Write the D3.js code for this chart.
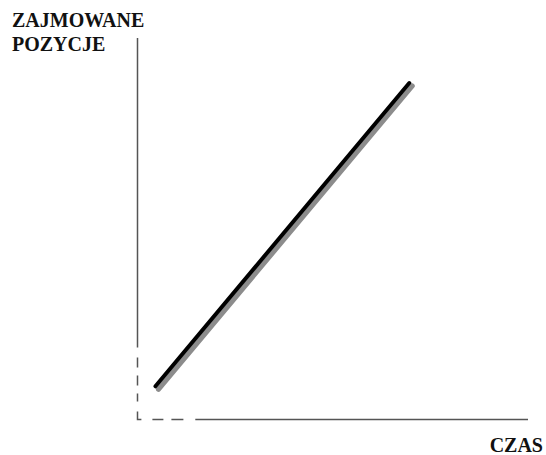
<!DOCTYPE html>
<html>
<head>
<meta charset="utf-8">
<script src="https://cdn.jsdelivr.net/npm/d3@7"></script>
<style>
  body { margin: 0; background: #fff; }
  svg { display: block; }
</style>
</head>
<body>
<svg id="chart" width="546" height="455"></svg>
<script>
// values, in percent of the axis length
var timeValues = [4.6, 69.6];
var positionValues = [8.7, 88.2];
var yLabelLines = ["ZAJMOWANE", "POZYCJE"];
var xLabel = "CZAS";
var dashedUpToX = 14.8;   // horizontal axis is dashed below this time
var dashedUpToY = 18.9;   // vertical axis is dashed below this position

var serif = "'Liberation Serif', 'Times New Roman', Times, serif";
var svg = d3.select("#chart");
var x = d3.scaleLinear().domain([0, 100]).range([137.5, 528]);
var y = d3.scaleLinear().domain([0, 100]).range([419.5, 38]);

// axes: solid part
svg.append("path")
  .attr("d", "M" + x(0) + "," + y(100) + "V" + y(dashedUpToY))
  .attr("stroke", "#555").attr("stroke-width", 1.5).attr("fill", "none");
svg.append("path")
  .attr("d", "M" + x(dashedUpToX) + "," + y(0) + "H" + x(100))
  .attr("stroke", "#555").attr("stroke-width", 1.5).attr("fill", "none");
// axes: dashed part near the origin
svg.append("path")
  .attr("d", "M" + x(0) + "," + y(dashedUpToY) + "V" + y(0) + "H" + x(dashedUpToX))
  .attr("stroke", "#555").attr("stroke-width", 1.5).attr("fill", "none")
  .attr("stroke-dasharray", "0,10,10,8,10,8,8,10,12,11,11,8,12,10");

var pts = timeValues.map(function(t, i) { return [t, positionValues[i]]; });
var line = d3.line().x(function(d) { return x(d[0]); }).y(function(d) { return y(d[1]); });

// gray shadow, then the black line
svg.append("path").datum(pts)
  .attr("d", line)
  .attr("transform", "translate(3,3)")
  .attr("stroke", "#8c8c8c").attr("stroke-width", 5).attr("stroke-linecap", "round").attr("fill", "none");
svg.append("path").datum(pts)
  .attr("d", line)
  .attr("stroke", "#000").attr("stroke-width", 4).attr("stroke-linecap", "round").attr("fill", "none");

svg.selectAll("text.ylab").data(yLabelLines).enter().append("text")
  .attr("class", "ylab")
  .attr("x", 12)
  .attr("y", function(d, i) { return 27 + i * 24; })
  .attr("font-family", serif).attr("font-weight", "bold").attr("font-size", 20).attr("fill", "#111")
  .text(function(d) { return d; });

svg.append("text")
  .attr("x", 543).attr("y", 452).attr("text-anchor", "end")
  .attr("font-family", serif).attr("font-weight", "bold").attr("font-size", 20).attr("fill", "#111")
  .text(xLabel);
</script>
</body>
</html>
